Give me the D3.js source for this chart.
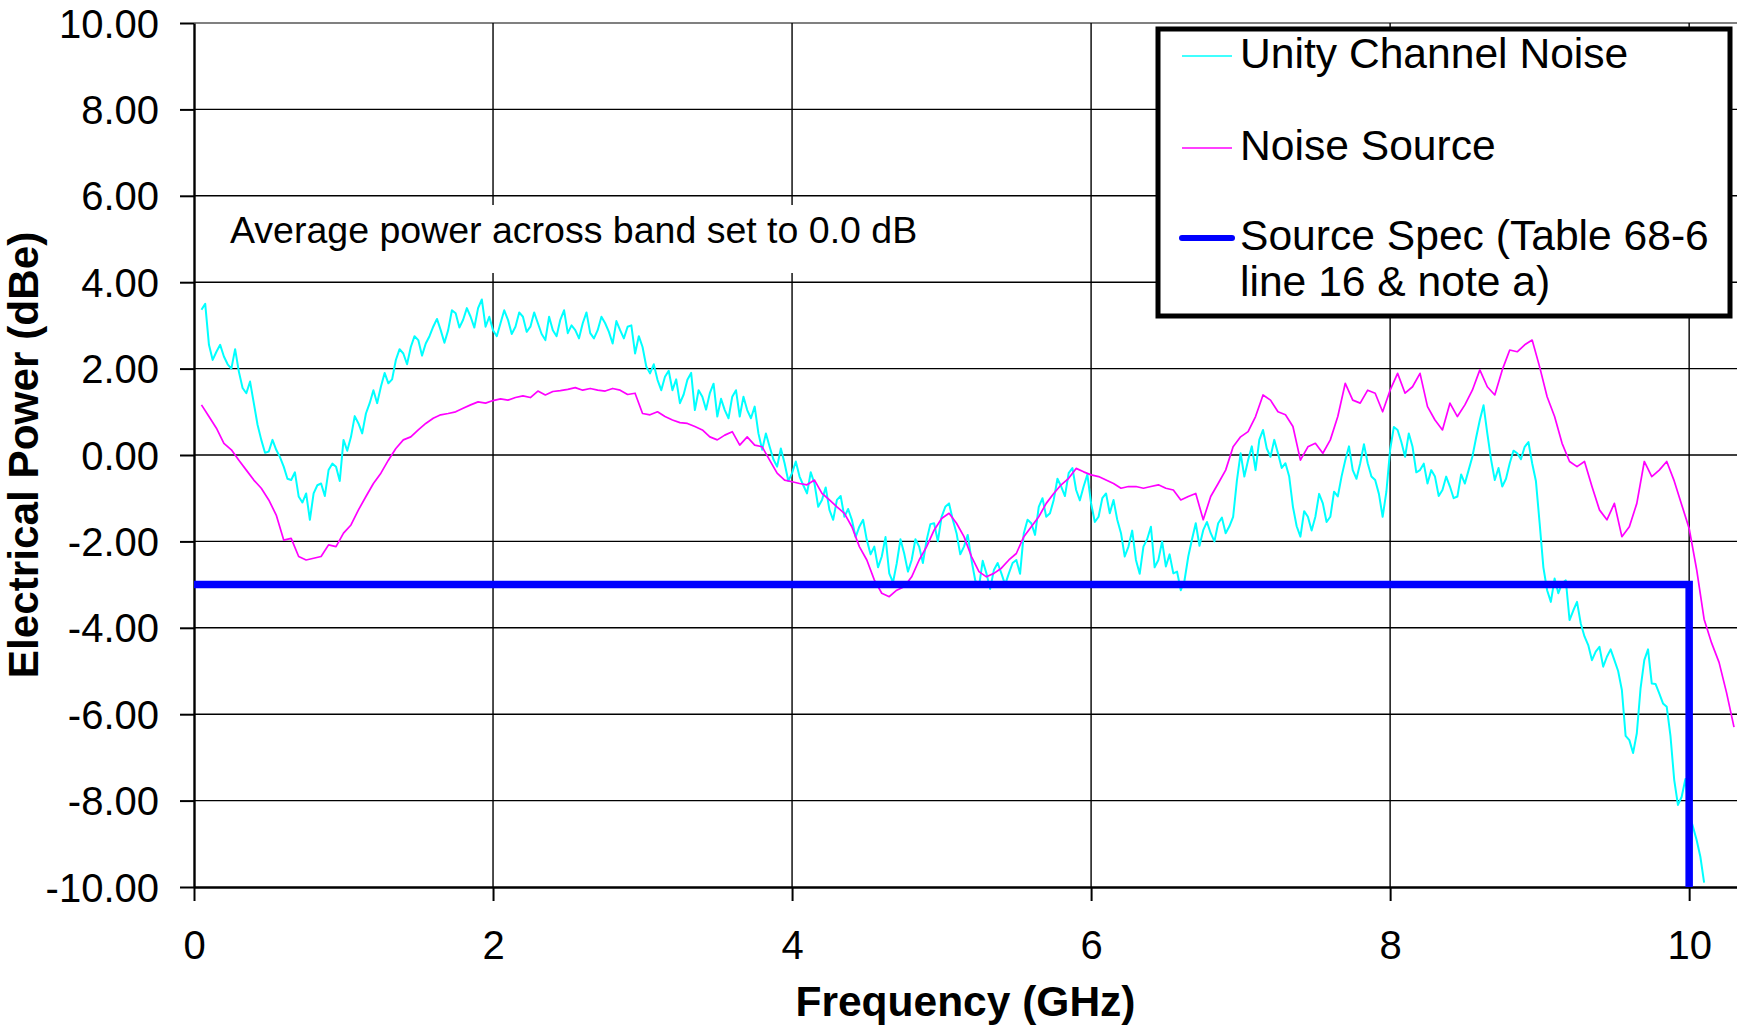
<!DOCTYPE html>
<meta charset="utf-8">
<script src="https://d3js.org/d3.v7.min.js"></script>
<style>
  body { margin: 0; background: #fff; }
  svg text { font-family: "Liberation Sans", Arial, Helvetica, sans-serif; fill: #000; }
</style>
<div id="chart"></div>
<script>
// frequency grid (GHz), one row = 0.5 GHz
var freqGHz = [
  0.05, 0.10, 0.15, 0.20, 0.25, 0.30, 0.35, 0.40, 0.45, 0.50,
  0.55, 0.60, 0.65, 0.70, 0.75, 0.80, 0.85, 0.90, 0.95, 1.00,
  1.05, 1.10, 1.15, 1.20, 1.25, 1.30, 1.35, 1.40, 1.45, 1.50,
  1.55, 1.60, 1.65, 1.70, 1.75, 1.80, 1.85, 1.90, 1.95, 2.00,
  2.05, 2.10, 2.15, 2.20, 2.25, 2.30, 2.35, 2.40, 2.45, 2.50,
  2.55, 2.60, 2.65, 2.70, 2.75, 2.80, 2.85, 2.90, 2.95, 3.00,
  3.05, 3.10, 3.15, 3.20, 3.25, 3.30, 3.35, 3.40, 3.45, 3.50,
  3.55, 3.60, 3.65, 3.70, 3.75, 3.80, 3.85, 3.90, 3.95, 4.00,
  4.05, 4.10, 4.15, 4.20, 4.25, 4.30, 4.35, 4.40, 4.45, 4.50,
  4.55, 4.60, 4.65, 4.70, 4.75, 4.80, 4.85, 4.90, 4.95, 5.00,
  5.05, 5.10, 5.15, 5.20, 5.25, 5.30, 5.35, 5.40, 5.45, 5.50,
  5.55, 5.60, 5.65, 5.70, 5.75, 5.80, 5.85, 5.90, 5.95, 6.00,
  6.05, 6.10, 6.15, 6.20, 6.25, 6.30, 6.35, 6.40, 6.45, 6.50,
  6.55, 6.60, 6.65, 6.70, 6.75, 6.80, 6.85, 6.90, 6.95, 7.00,
  7.05, 7.10, 7.15, 7.20, 7.25, 7.30, 7.35, 7.40, 7.45, 7.50,
  7.55, 7.60, 7.65, 7.70, 7.75, 7.80, 7.85, 7.90, 7.95, 8.00,
  8.05, 8.10, 8.15, 8.20, 8.25, 8.30, 8.35, 8.40, 8.45, 8.50,
  8.55, 8.60, 8.65, 8.70, 8.75, 8.80, 8.85, 8.90, 8.95, 9.00,
  9.05, 9.10, 9.15, 9.20, 9.25, 9.30, 9.35, 9.40, 9.45, 9.50,
  9.55, 9.60, 9.65, 9.70, 9.75, 9.80, 9.85, 9.90, 9.95, 10.00,
  10.05, 10.10, 10.15, 10.20, 10.25, 10.30
];

// Unity Channel Noise (dBe) at freqGHz
var unityChannelNoise = [
  3.36, 2.55, 2.39, 2.28, 2.0, 1.93, 1.43, 1.2, 0.35, 0.08,
  0.12, -0.27, -0.58, -0.96, -0.89, -0.89, -0.66, -0.35, -0.27, 0.35,
  0.42, 0.73, 0.96, 1.5, 1.58, 1.66, 2.2, 2.35, 2.5, 2.66,
  2.58, 2.97, 2.89, 2.89, 3.28, 3.13, 3.2, 3.4, 2.97, 2.89,
  3.05, 3.13, 2.97, 3.2, 2.97, 3.05, 2.66, 2.89, 3.13, 2.82,
  2.89, 3.05, 2.82, 2.89, 3.05, 2.58, 2.89, 2.97, 2.35, 2.5,
  1.89, 1.74, 1.81, 1.5, 1.2, 1.74, 1.04, 1.35, 1.43, 0.89,
  1.04, 1.35, 0.89, 1.04, 1.12, 0.12, 0.19, -0.27, -0.19, -0.42,
  -0.5, -0.89, -0.66, -1.04, -1.27, -1.04, -1.43, -1.5, -1.66, -1.97,
  -2.12, -2.35, -2.74, -2.51, -2.28, -2.43, -2.12, -1.97, -1.58, -1.43,
  -1.12, -1.81, -2.12, -2.43, -3.05, -2.74, -2.66, -2.74, -2.74, -2.43,
  -1.81, -1.58, -1.2, -1.43, -1.04, -0.73, -0.42, -0.81, -0.73, -1.12,
  -1.43, -0.89, -1.04, -1.81, -2.12, -2.43, -2.12, -1.66, -2.43, -2.58,
  -2.74, -3.13, -2.35, -1.58, -1.74, -1.81, -1.58, -1.81, -1.43, 0.04,
  -0.12, -0.35, 0.58, -0.04, 0.04, -0.19, -1.2, -1.89, -1.43, -1.43,
  -1.12, -1.43, -0.96, -0.12, -0.35, -0.19, -0.19, -0.58, -1.43, 0.12,
  0.58, -0.04, 0.19, -0.35, -0.66, -0.5, -0.81, -0.73, -0.96, -0.66,
  -0.04, 0.81, 0.5, -0.58, -0.73, -0.19, 0.04, 0.19, -0.19, -1.58,
  -3.13, -2.86, -2.97, -3.82, -3.4, -4.2, -4.75, -4.44, -4.67, -4.75,
  -5.44, -6.6, -6.44, -4.75, -5.29, -5.52, -5.83, -7.52, -7.91, -8.3,
  -8.91, -9.9, null, null, null, null
];

// Unity Channel Noise half-step samples, at freqGHz + 0.025
var unityChannelNoiseHalf = [
  3.5, 2.2, 2.55, 2.1, 2.45, 1.55, 1.7, 0.7, 0.05, 0.35,
  -0.05, -0.55, -0.4, -1.1, -1.5, -0.7, -0.95, -0.2, -0.6, 0.1,
  0.9, 0.5, 1.2, 1.2, 1.9, 1.75, 2.45, 2.1, 2.75, 2.3,
  2.75, 3.15, 2.6, 3.35, 2.95, 3.4, 2.95, 3.6, 3.2, 2.75,
  3.35, 2.8, 3.3, 2.85, 3.3, 2.8, 3.2, 2.75, 3.35, 3.0,
  2.7, 3.3, 2.7, 3.2, 2.85, 3.1, 2.7, 3.0, 2.75, 2.05,
  2.1, 1.5, 1.95, 1.75, 1.4, 1.9, 1.5, 1.05, 1.65, 1.3,
  0.85, 1.5, 1.35, 0.85, 0.5, 0.5, -0.1, 0.15, -0.6, -0.15,
  -0.7, -0.4, -1.2, -0.75, -1.5, -0.95, -1.25, -1.9, -1.5, -2.3,
  -2.6, -1.9, -2.95, -1.95, -2.7, -1.95, -2.5, -1.6, -2.0, -1.2,
  -1.5, -2.3, -1.85, -2.9, -2.45, -3.1, -2.5, -3.0, -2.5, -2.75,
  -1.5, -1.85, -1.0, -1.35, -0.55, -0.95, -0.3, -1.05, -0.45, -1.55,
  -1.0, -1.35, -1.5, -2.35, -1.75, -2.75, -1.95, -2.6, -2.0, -2.3,
  -2.7, -2.9, -1.95, -2.1, -1.55, -2.0, -1.45, -1.65, -0.6, -0.5,
  0.2, 0.35, 0.15, 0.35, -0.3, -0.5, -1.65, -1.3, -1.75, -0.9,
  -1.55, -0.85, -0.5, 0.2, -0.55, 0.25, -0.5, -0.9, -0.85, 0.65,
  0.3, 0.5, -0.4, -0.2, -0.35, -0.95, -0.5, -1.0, -0.45, -0.35,
  0.4, 1.15, -0.1, -0.3, -0.55, 0.1, -0.1, 0.3, -0.6, -2.6,
  -3.4, -3.2, -2.9, -3.6, -3.9, -4.4, -4.55, -4.9, -4.5, -5.0,
  -6.5, -6.9, -5.4, -4.5, -5.3, -5.75, -6.5, -8.1, -7.5, -8.6,
  -9.3, null, null, null, null, null
];

// Noise Source (dBe) at freqGHz
var noiseSource = [
  1.16, 0.89, 0.62, 0.27, 0.12, -0.12, -0.35, -0.58, -0.77, -1.04,
  -1.39, -1.97, -1.93, -2.35, -2.43, -2.39, -2.35, -2.08, -2.12, -1.81,
  -1.62, -1.27, -0.96, -0.66, -0.42, -0.12, 0.15, 0.35, 0.42, 0.58,
  0.73, 0.85, 0.93, 0.96, 1.0, 1.08, 1.16, 1.23, 1.2, 1.26,
  1.3, 1.27, 1.33, 1.37, 1.33, 1.48, 1.39, 1.47, 1.49, 1.52,
  1.56, 1.5, 1.54, 1.5, 1.48, 1.54, 1.5, 1.4, 1.43, 0.96,
  0.93, 1.0, 0.89, 0.81, 0.75, 0.73, 0.66, 0.58, 0.42, 0.35,
  0.46, 0.54, 0.23, 0.42, 0.23, 0.19, -0.12, -0.42, -0.58, -0.62,
  -0.66, -0.69, -0.58, -0.89, -1.04, -1.2, -1.35, -1.66, -2.12, -2.43,
  -2.89, -3.2, -3.28, -3.13, -3.05, -2.82, -2.43, -2.12, -1.74, -1.47,
  -1.35, -1.58, -1.89, -2.35, -2.7, -2.82, -2.74, -2.62, -2.43, -2.28,
  -1.89, -1.66, -1.43, -1.12, -0.89, -0.69, -0.54, -0.31, -0.39, -0.46,
  -0.5, -0.58, -0.66, -0.77, -0.73, -0.73, -0.77, -0.73, -0.69, -0.77,
  -0.81, -1.04, -0.96, -0.89, -1.5, -0.96, -0.66, -0.35, 0.19, 0.42,
  0.54, 0.89, 1.39, 1.27, 1.0, 0.93, 0.66, -0.12, 0.19, 0.27,
  0.04, 0.35, 0.89, 1.66, 1.27, 1.2, 1.5, 1.43, 1.0, 1.5,
  1.89, 1.43, 1.58, 1.89, 1.12, 0.81, 0.58, 1.2, 0.89, 1.16,
  1.5, 1.97, 1.58, 1.39, 1.97, 2.43, 2.39, 2.55, 2.66, 2.04,
  1.35, 0.89, 0.27, -0.15, -0.27, -0.15, -0.73, -1.27, -1.5, -1.12,
  -1.89, -1.66, -1.12, -0.15, -0.5, -0.35, -0.15, -0.6, -1.15, -1.7,
  -2.65, -3.8, -4.35, -4.8, -5.5, -6.3
];

// Source spec mask (Table 68-6 line 16 & note a)
var specFreq = [0, 10, 10];
var specDb = [-3, -3, -10];

var xTicks = [0, 2, 4, 6, 8, 10];
var yTicks = [-10, -8, -6, -4, -2, 0, 2, 4, 6, 8, 10];

var legendItems = [
  { lines: ["Unity Channel Noise"], color: "#00ffff", width: 1.6 },
  { lines: ["Noise Source"], color: "#ff00ff", width: 1.6 },
  { lines: ["Source Spec (Table 68-6", "line 16 & note a)"], color: "#0000ff", width: 6 }
];

var W = 1737, H = 1026;
var plot = { left: 194, right: 1737, top: 23, bottom: 887 };

var svg = d3.select("#chart").append("svg")
  .attr("width", W)
  .attr("height", H);

var x = d3.scaleLinear().domain([0, 10.32]).range([plot.left, plot.right]);
var y = d3.scaleLinear().domain([-10, 10]).range([plot.bottom, plot.top]);

// gridlines
svg.append("g").selectAll("line.hgrid")
  .data(yTicks.filter(function (d) { return d > -10 && d < 10; }))
  .enter().append("line")
  .attr("x1", plot.left).attr("x2", plot.right)
  .attr("y1", function (d) { return y(d); })
  .attr("y2", function (d) { return y(d); })
  .attr("stroke", "#000").attr("stroke-width", 1.4);

svg.append("line")
  .attr("x1", plot.left).attr("x2", plot.right)
  .attr("y1", y(10)).attr("y2", y(10))
  .attr("stroke", "#808080").attr("stroke-width", 2);

svg.append("g").selectAll("line.vgrid")
  .data(xTicks.filter(function (d) { return d > 0; }))
  .enter().append("line")
  .attr("x1", function (d) { return x(d); })
  .attr("x2", function (d) { return x(d); })
  .attr("y1", plot.top).attr("y2", plot.bottom)
  .attr("stroke", "#000").attr("stroke-width", 1.4);

// annotation
svg.append("rect")
  .attr("x", 222).attr("y", 205).attr("width", 708).attr("height", 68)
  .attr("fill", "#fff");
svg.append("text")
  .attr("x", 230).attr("y", 243)
  .style("font-size", "37.5px")
  .text("Average power across band set to 0.0 dB");

// axes
var yAxis = svg.append("g")
  .attr("transform", "translate(" + plot.left + ",0)")
  .call(d3.axisLeft(y).tickValues(yTicks).tickSize(14).tickSizeOuter(0).tickPadding(21)
    .tickFormat(function (d) { return d.toFixed(2); }));
yAxis.select(".domain").attr("stroke-width", 2.4);
yAxis.selectAll(".tick line").attr("stroke-width", 2);
yAxis.selectAll(".tick text")
  .attr("dy", "0.35em")
  .style("font-size", "40px")
  .style("font-family", '"Liberation Sans", Arial, sans-serif');

var xAxis = svg.append("g")
  .attr("transform", "translate(0," + plot.bottom + ")")
  .call(d3.axisBottom(x).tickValues(xTicks).tickSize(14).tickSizeOuter(0).tickPadding(30));
xAxis.select(".domain").attr("stroke-width", 2.4);
xAxis.selectAll(".tick line").attr("stroke-width", 2);
xAxis.selectAll(".tick text")
  .style("font-size", "40px")
  .style("font-family", '"Liberation Sans", Arial, sans-serif');

// axis titles
svg.append("text")
  .attr("x", (plot.left + plot.right) / 2).attr("y", 1016)
  .attr("text-anchor", "middle")
  .style("font-size", "42.5px").style("font-weight", "bold")
  .text("Frequency (GHz)");

svg.append("text")
  .attr("transform", "translate(38," + (plot.top + plot.bottom) / 2 + ") rotate(-90)")
  .attr("text-anchor", "middle")
  .style("font-size", "42.3px").style("font-weight", "bold")
  .text("Electrical Power (dBe)");

// series
svg.append("clipPath").attr("id", "plotclip")
  .append("rect")
  .attr("x", plot.left).attr("y", plot.top)
  .attr("width", plot.right - plot.left).attr("height", plot.bottom - plot.top);

var unityPts = [];
freqGHz.forEach(function (f, i) {
  unityPts.push([f, unityChannelNoise[i]]);
  unityPts.push([f + 0.025, unityChannelNoiseHalf[i]]);
});
var sourcePts = freqGHz.map(function (f, i) { return [f, noiseSource[i]]; });
var specPts = specFreq.map(function (f, i) { return [f, specDb[i]]; });

var line = d3.line()
  .defined(function (d) { return d[1] !== null; })
  .x(function (d) { return x(d[0]); })
  .y(function (d) { return y(d[1]); });

var series = svg.append("g").attr("clip-path", "url(#plotclip)");

series.append("path")
  .datum(unityPts)
  .attr("d", line)
  .attr("fill", "none")
  .attr("stroke", "#00ffff")
  .attr("stroke-width", 2)
  .attr("stroke-linejoin", "round");

series.append("path")
  .datum(sourcePts)
  .attr("d", line)
  .attr("fill", "none")
  .attr("stroke", "#ff00ff")
  .attr("stroke-width", 1.7)
  .attr("stroke-linejoin", "round");

svg.append("path")
  .datum(specPts)
  .attr("d", line)
  .attr("fill", "none")
  .attr("stroke", "#0000ff")
  .attr("stroke-width", 7.5)
  .attr("stroke-linejoin", "miter");

// legend
var legend = svg.append("g");
legend.append("rect")
  .attr("x", 1158).attr("y", 29).attr("width", 572).attr("height", 287)
  .attr("fill", "#fff").attr("stroke", "#000").attr("stroke-width", 5);

var legendRowY = [68, 160, 250];
legendItems.forEach(function (item, i) {
  var by = legendRowY[i];
  legend.append("line")
    .attr("x1", 1182).attr("x2", 1232)
    .attr("y1", by - 12).attr("y2", by - 12)
    .attr("stroke", item.color)
    .attr("stroke-width", item.width)
    .attr("stroke-linecap", item.width > 3 ? "round" : "butt");
  item.lines.forEach(function (t, j) {
    legend.append("text")
      .attr("x", 1240).attr("y", by + j * 46)
      .style("font-size", "42.6px")
      .text(t);
  });
});
</script>
